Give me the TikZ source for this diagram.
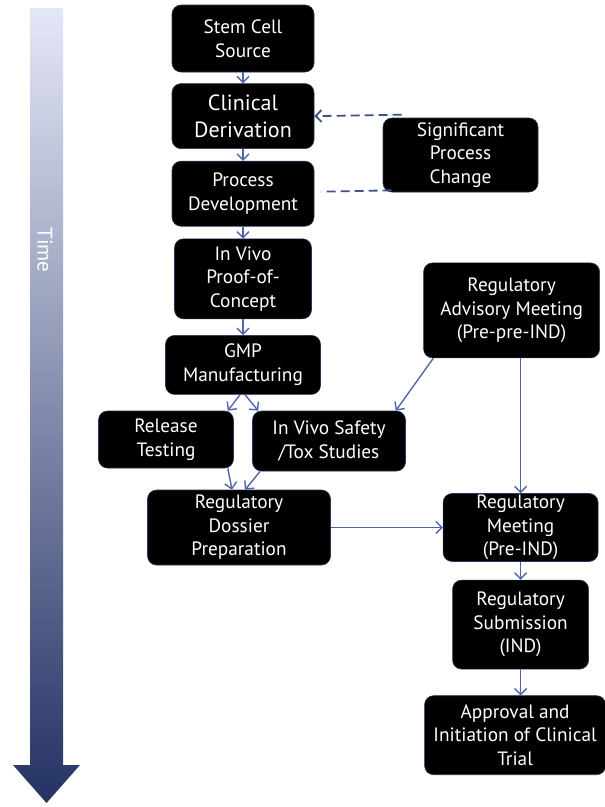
\documentclass[tikz,border=0pt]{standalone}
\usepackage{fontspec}
\setmainfont{PT Sans}
\usetikzlibrary{positioning,arrows.meta}
\definecolor{flowblue}{RGB}{80,102,168}
\definecolor{edgeblue}{RGB}{40,52,90}
\definecolor{dashblue}{RGB}{62,82,135}
\definecolor{timetop}{RGB}{228,231,246}
\definecolor{timemid}{RGB}{165,172,212}
\definecolor{timebottom}{RGB}{36,50,100}

\begin{document}
\begin{tikzpicture}[
    x=1pt, y=-1pt,
    stage/.style={rectangle, rounded corners=9pt, fill=black, draw=edgeblue, line width=0.6pt,
                  text=white, align=center, inner sep=1pt,
                  font=\fontsize{19.3}{23.5}\selectfont},
    flow/.style={-{Straight Barb[length=6pt,width=12pt]}, flowblue, line width=1.4pt},
    feedback/.style={dash pattern=on 9pt off 5pt, dashblue, line width=1.8pt}
]
\useasboundingbox (0,0) rectangle (605,807);

% Time axis
\shade[top color=timetop, middle color=timemid, bottom color=timebottom]
    (30,8) -- (63,8) -- (63,765) -- (80,765) -- (46.5,803) -- (13,765) -- (30,765) -- cycle;
\node[rotate=-90, text=white, font=\fontsize{21}{24}\selectfont] (time) at (45,250) {Time};

% Development column
\node[stage, minimum width=142pt, minimum height=67pt] (stem) at (243,38.5) {Stem Cell\\Source};
\node[stage, minimum width=142pt, minimum height=65pt, below=11pt of stem,
      font=\fontsize{22}{27}\selectfont] (clinical) {Clinical\\Derivation};
\node[stage, minimum width=142pt, minimum height=65pt, below=12pt of clinical] (procdev) {Process\\Development};
\node[stage, minimum width=137pt, minimum height=80pt, below=12pt of procdev] (invivo) {In Vivo\\Proof-of-\\Concept};
\node[stage, minimum width=155pt, minimum height=59pt, below=16pt of invivo] (gmp) {GMP\\Manufacturing};
\node[stage, minimum width=135pt, minimum height=57pt, below=16pt of gmp, xshift=-77pt] (release) {Release\\Testing};
\node[stage, minimum width=153pt, minimum height=60pt, below=16pt of gmp, xshift=86pt] (safety) {In Vivo Safety\\/Tox Studies};
\node[stage, minimum width=183pt, minimum height=75pt, below=95pt of gmp, xshift=-4pt] (dossier) {Regulatory\\Dossier\\Preparation};

% Process change loop
\node[stage, minimum width=155pt, minimum height=74pt] (change) at (460.5,155) {Significant\\Process\\Change};

% Regulatory column
\node[stage, minimum width=155pt, minimum height=68pt, right=112pt of dossier] (meeting) {Regulatory\\Meeting\\(Pre-IND)};
\node[stage, minimum width=176pt, minimum height=95pt, above=135pt of meeting, xshift=-9pt] (advisory) {Regulatory\\Advisory Meeting\\(Pre-pre-IND)};
\node[stage, minimum width=136pt, minimum height=89pt, below=18pt of meeting] (submission) {Regulatory\\Submission\\(IND)};
\node[stage, minimum width=181pt, minimum height=79pt, below=26pt of submission, xshift=-5.5pt] (approval) {Approval and\\Initiation of Clinical\\Trial};

% Connections
\draw[flow] (stem) -- (clinical);
\draw[flow] (clinical) -- (procdev);
\draw[flow] (procdev) -- (invivo);
\draw[flow] (invivo) -- (gmp);
\draw[flow] ([xshift=-3pt]gmp.south) -- ([xshift=-6pt]release.north east);
\draw[flow] ([xshift=2pt]gmp.south) -- ([xshift=6pt]safety.north west);
\draw[flow] ([xshift=-6pt]release.south east) -- ([xshift=-7pt]dossier.north);
\draw[flow] ([xshift=8pt]safety.south west) -- ([xshift=6pt]dossier.north);
\draw[flow] ([xshift=10pt]advisory.south west) -- ([xshift=-10pt]safety.north east);
\draw[flow] (advisory.south -| meeting.north) -- (meeting.north);
\draw[flow] (dossier) -- (meeting);
\draw[flow] (meeting) -- (submission);
\draw[flow] (submission.south) -- (submission.south |- approval.north);

% Feedback from a significant change
\draw[feedback, -{Straight Barb[length=6pt,width=12pt]}] ([xshift=19pt,yshift=3pt]change.north west) -- (clinical.east);
\draw[feedback] ([xshift=9pt,yshift=2pt]change.south west) -- ([xshift=7pt,yshift=2pt]procdev.east);

\end{tikzpicture}
\end{document}
